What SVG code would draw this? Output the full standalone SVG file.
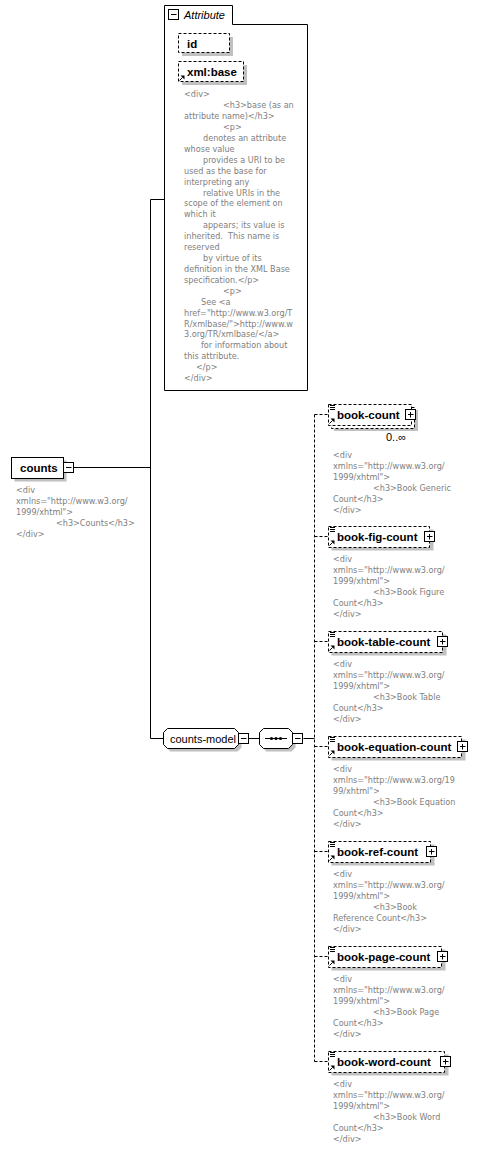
<svg xmlns="http://www.w3.org/2000/svg" width="478" height="1149" viewBox="0 0 478 1149">
<style>
.bg{fill:#fff}
.ln{stroke:#000;stroke-width:1;fill:none}
.dl{stroke:#000;stroke-width:1;fill:none;stroke-dasharray:3,2}
.box{fill:#fff;stroke:#000;stroke-width:1}
.dbox{fill:#fff;stroke:#000;stroke-width:1;stroke-dasharray:3,2}
.sh{fill:#c0c0c0}
.ic{fill:#fff;stroke:#000;stroke-width:1}
.lb{font-family:"Liberation Sans",Arial,sans-serif;font-size:11.5px;font-weight:bold;fill:#000}
.lr{font-family:"Liberation Sans",Arial,sans-serif;font-size:11px;fill:#000}
.li{font-family:"Liberation Sans",Arial,sans-serif;font-size:11px;font-style:italic;fill:#000}
.d{font-family:"DejaVu Sans Condensed","DejaVu Sans",sans-serif;font-stretch:condensed;font-size:9px;fill:#808080}
</style>
<defs>
<g id="plus"><rect class="ic" x="0.5" y="0.5" width="10" height="10"/><path class="ln" d="M3,5.5H8.5M5.5,3V8.5"/></g>
<g id="minus"><rect class="ic" x="0.5" y="0.5" width="10" height="10"/><path class="ln" d="M3,5.5H8.5"/></g>
<g id="lines"><path class="ln" d="M0,0.5H5M0,2.5H5M0,4.5H5"/></g>
<g id="arr"><path class="ln" d="M0.5,5.5L3.5,2.5"/><path d="M1.5,0.5H5.5V4.5Z" fill="#000"/></g>
</defs>
<rect class="bg" x="0" y="0" width="478" height="1149"/>

<g id="connectors">
<path class="ln" d="M73.5,467.5H150.5M150.5,199.5V738.5M150.5,199.5H164.5M150.5,738.5H163.5"/>
<path class="ln" d="M248.5,738.5H259.5M303.5,738.5H314.5"/>
<path class="dl" d="M314.5,414.5V1061.5"/>
<path class="dl" d="M314.5,414.5H328M314.5,536.5H328M314.5,641.5H328M314.5,746.5H328M314.5,851.5H328M314.5,956.5H328M314.5,1061.5H328"/>
</g>

<g id="attributes">
<path class="box" d="M164.5,5.5H232.5V24.5H307.5V390.5H164.5Z"/>
<use href="#minus" x="168" y="9"/>
<text class="li" x="184" y="19">Attribute</text>
<g id="attr-id">
<rect class="sh" x="182" y="37" width="51" height="19"/>
<rect class="dbox" x="178.5" y="33.5" width="51" height="19"/>
<text class="lb" x="187" y="47.5">id</text>
</g>
<g id="attr-xmlbase">
<rect class="sh" x="182" y="65" width="65" height="20"/>
<rect class="dbox" x="178.5" y="61.5" width="65" height="20"/>
<use href="#arr" x="179" y="75"/>
<text class="lb" x="187" y="75.5">xml:base</text>
<text class="d" xml:space="preserve"><tspan x="184" y="97">&lt;div&gt;</tspan><tspan x="223" y="108">&lt;h3&gt;base (as an</tspan><tspan x="184" y="119">attribute name)&lt;/h3&gt;</tspan><tspan x="223" y="130">&lt;p&gt;</tspan><tspan x="203" y="140.5">denotes an attribute</tspan><tspan x="184" y="151.5">whose value</tspan><tspan x="203" y="162.5">provides a URI to be</tspan><tspan x="184" y="173.5">used as the base for</tspan><tspan x="184" y="184.5">interpreting any</tspan><tspan x="203" y="195.5">relative URIs in the</tspan><tspan x="184" y="206">scope of the element on</tspan><tspan x="184" y="217">which it</tspan><tspan x="203" y="228">appears; its value is</tspan><tspan x="184" y="239">inherited.  This name is</tspan><tspan x="184" y="250">reserved</tspan><tspan x="203" y="261">by virtue of its</tspan><tspan x="184" y="271.5">definition in the XML Base</tspan><tspan x="184" y="282.5">specification.&lt;/p&gt;</tspan><tspan x="223" y="293.5">&lt;p&gt;</tspan><tspan x="201" y="304.5">See &lt;a</tspan><tspan x="184" y="315.5">href="http://www.w3.org/T</tspan><tspan x="184" y="326.5">R/xmlbase/"&gt;http://www.w</tspan><tspan x="184" y="337">3.org/TR/xmlbase/&lt;/a&gt;</tspan><tspan x="201" y="348">for information about</tspan><tspan x="184" y="359">this attribute.</tspan><tspan x="196" y="370">&lt;/p&gt;</tspan><tspan x="184" y="381">&lt;/div&gt;</tspan></text>
</g>
</g>

<g id="counts">
<rect class="sh" x="14.5" y="460.5" width="52" height="21"/>
<rect class="box" x="11.5" y="457.5" width="52" height="21"/>
<text class="lb" x="20" y="471.5">counts</text>
<use href="#minus" x="63" y="462"/>
<text class="d"><tspan x="16" y="493">&lt;div</tspan><tspan x="16" y="504">xmlns="http://www.w3.org/</tspan><tspan x="16" y="515">1999/xhtml"&gt;</tspan><tspan x="56" y="526">&lt;h3&gt;Counts&lt;/h3&gt;</tspan><tspan x="16" y="537">&lt;/div&gt;</tspan></text>
</g>

<g id="counts-model">
<path class="sh" d="M170.5,731.5H237.5L241.5,735.5V747.5L237.5,751.5H170.5L166.5,747.5V735.5Z"/>
<path class="box" d="M167.5,728.5H234.5L238.5,732.5V744.5L234.5,748.5H167.5L163.5,744.5V732.5Z"/>
<text class="lr" x="170" y="742.5">counts-model</text>
<use href="#minus" x="238" y="733"/>
</g>

<g id="sequence">
<path class="sh" d="M266.5,731.5H291.5L295.5,735.5V747.5L291.5,751.5H266.5L262.5,747.5V735.5Z"/>
<path class="box" d="M263.5,728.5H288.5L292.5,732.5V744.5L288.5,748.5H263.5L259.5,744.5V732.5Z"/>
<path class="ln" d="M265,738.5H287"/>
<circle cx="271.5" cy="738.5" r="1.6" fill="#000"/>
<circle cx="276" cy="738.5" r="1.6" fill="#000"/>
<circle cx="280.5" cy="738.5" r="1.6" fill="#000"/>
<use href="#minus" x="292" y="733"/>
</g>

<g id="book-count">
<rect class="sh" x="334" y="410" width="84" height="21"/>
<rect class="dbox" x="331.5" y="407.5" width="83" height="21"/>
<rect class="dbox" x="328.5" y="404.5" width="83" height="21"/>
<use href="#lines" x="330" y="405"/>
<use href="#arr" x="329" y="418"/>
<text class="lb" x="337" y="418.5">book-count</text>
<use href="#plus" x="405" y="409"/>
<text class="lr" x="386" y="441">0..∞</text>
<text class="d"><tspan x="333" y="458">&lt;div</tspan><tspan x="333" y="469">xmlns="http://www.w3.org/</tspan><tspan x="333" y="480">1999/xhtml"&gt;</tspan><tspan x="373" y="491">&lt;h3&gt;Book Generic</tspan><tspan x="333" y="502">Count&lt;/h3&gt;</tspan><tspan x="333" y="513">&lt;/div&gt;</tspan></text>
</g>

<g id="book-fig-count">
<rect class="sh" x="331.5" y="529.5" width="102" height="21"/>
<rect class="dbox" x="328.5" y="526.5" width="101" height="21"/>
<use href="#lines" x="330" y="527"/>
<use href="#arr" x="329" y="540"/>
<text class="lb" x="337" y="540.5">book-fig-count</text>
<use href="#plus" x="424" y="531"/>
<text class="d"><tspan x="333" y="562">&lt;div</tspan><tspan x="333" y="573">xmlns="http://www.w3.org/</tspan><tspan x="333" y="584">1999/xhtml"&gt;</tspan><tspan x="373" y="595">&lt;h3&gt;Book Figure</tspan><tspan x="333" y="606">Count&lt;/h3&gt;</tspan><tspan x="333" y="617">&lt;/div&gt;</tspan></text>
</g>

<g id="book-table-count">
<rect class="sh" x="331.5" y="634.5" width="115" height="21"/>
<rect class="dbox" x="328.5" y="631.5" width="114" height="21"/>
<use href="#lines" x="330" y="632"/>
<use href="#arr" x="329" y="645"/>
<text class="lb" x="337" y="645.5">book-table-count</text>
<use href="#plus" x="437" y="636"/>
<text class="d"><tspan x="333" y="667">&lt;div</tspan><tspan x="333" y="678">xmlns="http://www.w3.org/</tspan><tspan x="333" y="689">1999/xhtml"&gt;</tspan><tspan x="373" y="700">&lt;h3&gt;Book Table</tspan><tspan x="333" y="711">Count&lt;/h3&gt;</tspan><tspan x="333" y="722">&lt;/div&gt;</tspan></text>
</g>

<g id="book-equation-count">
<rect class="sh" x="331.5" y="739.5" width="134" height="21"/>
<rect class="dbox" x="328.5" y="736.5" width="133" height="21"/>
<use href="#lines" x="330" y="737"/>
<use href="#arr" x="329" y="750"/>
<text class="lb" x="337" y="750.5">book-equation-count</text>
<use href="#plus" x="457" y="741"/>
<text class="d"><tspan x="333" y="772">&lt;div</tspan><tspan x="333" y="783">xmlns="http://www.w3.org/19</tspan><tspan x="333" y="794">99/xhtml"&gt;</tspan><tspan x="373" y="805">&lt;h3&gt;Book Equation</tspan><tspan x="333" y="816">Count&lt;/h3&gt;</tspan><tspan x="333" y="827">&lt;/div&gt;</tspan></text>
</g>

<g id="book-ref-count">
<rect class="sh" x="331.5" y="844.5" width="103" height="21"/>
<rect class="dbox" x="328.5" y="841.5" width="102" height="21"/>
<use href="#lines" x="330" y="842"/>
<use href="#arr" x="329" y="855"/>
<text class="lb" x="337" y="855.5">book-ref-count</text>
<use href="#plus" x="426" y="846"/>
<text class="d"><tspan x="333" y="877">&lt;div</tspan><tspan x="333" y="888">xmlns="http://www.w3.org/</tspan><tspan x="333" y="899">1999/xhtml"&gt;</tspan><tspan x="373" y="910">&lt;h3&gt;Book</tspan><tspan x="333" y="921">Reference Count&lt;/h3&gt;</tspan><tspan x="333" y="932">&lt;/div&gt;</tspan></text>
</g>

<g id="book-page-count">
<rect class="sh" x="331.5" y="949.5" width="114" height="21"/>
<rect class="dbox" x="328.5" y="946.5" width="113" height="21"/>
<use href="#lines" x="330" y="947"/>
<use href="#arr" x="329" y="960"/>
<text class="lb" x="337" y="960.5">book-page-count</text>
<use href="#plus" x="437" y="951"/>
<text class="d"><tspan x="333" y="982">&lt;div</tspan><tspan x="333" y="993">xmlns="http://www.w3.org/</tspan><tspan x="333" y="1004">1999/xhtml"&gt;</tspan><tspan x="373" y="1015">&lt;h3&gt;Book Page</tspan><tspan x="333" y="1026">Count&lt;/h3&gt;</tspan><tspan x="333" y="1037">&lt;/div&gt;</tspan></text>
</g>

<g id="book-word-count">
<rect class="sh" x="331.5" y="1054.5" width="117" height="21"/>
<rect class="dbox" x="328.5" y="1051.5" width="116" height="21"/>
<use href="#lines" x="330" y="1052"/>
<use href="#arr" x="329" y="1065"/>
<text class="lb" x="337" y="1065.5">book-word-count</text>
<use href="#plus" x="440" y="1056"/>
<text class="d"><tspan x="333" y="1087">&lt;div</tspan><tspan x="333" y="1098">xmlns="http://www.w3.org/</tspan><tspan x="333" y="1109">1999/xhtml"&gt;</tspan><tspan x="373" y="1120">&lt;h3&gt;Book Word</tspan><tspan x="333" y="1131">Count&lt;/h3&gt;</tspan><tspan x="333" y="1142">&lt;/div&gt;</tspan></text>
</g>
</svg>
